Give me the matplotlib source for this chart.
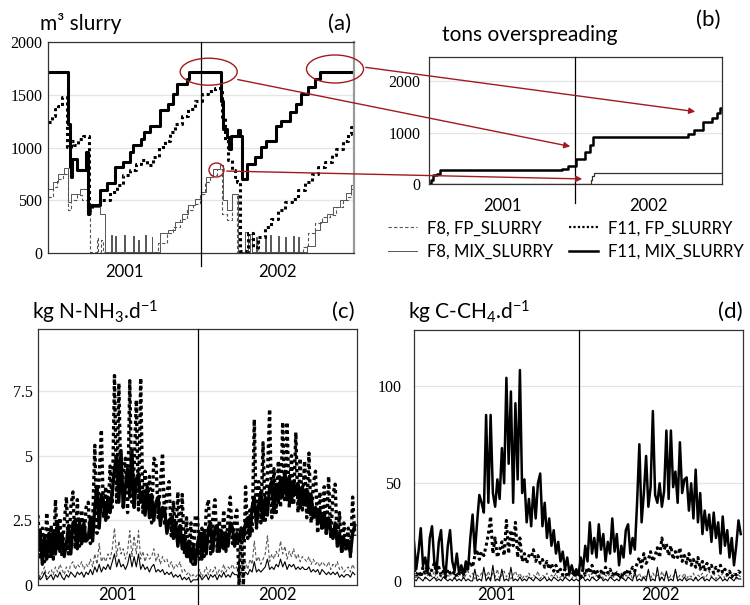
import numpy as np
import matplotlib
matplotlib.use("Agg")
import matplotlib.pyplot as plt
from matplotlib.lines import Line2D
from matplotlib.patches import Ellipse, FancyArrowPatch

plt.rcParams['font.family'] = ['Lato', 'DejaVu Sans']
plt.rcParams['mathtext.fontset'] = 'custom'
plt.rcParams['mathtext.rm'] = 'Lato'
plt.rcParams['mathtext.it'] = 'Lato'

W, H = 750, 605
YEARS = ['2001', '2002']

# ---- (a) m3 slurry in store, step series (day, value) ----
a_f11_mix_days = [0, 48.5, 52.5, 55.6, 58, 70, 90, 94.6, 98.6, 124, 140, 160, 180, 195.6, 202, 223, 229,
                  243, 267, 287, 299, 307, 331, 337, 413.6, 418, 426, 431, 437, 453, 459, 463.6, 475.6,
                  493, 509, 521, 545, 557, 577, 592.5, 604.5, 620, 636, 648, 730]
a_f11_mix_vals = [1711, 1223, 815, 720, 893, 783, 956, 374, 453, 601, 664, 815, 862, 956, 1019, 1082, 1145,
                  1208, 1355, 1412, 1506, 1600, 1648, 1711, 1444, 1176, 1098, 988, 1113, 1167, 1113, 704, 846,
                  909, 1003, 1066, 1208, 1255, 1333, 1412, 1506, 1569, 1648, 1711, 1711]

a_f11_fp_days = [0, 8.7, 16.7, 24.6, 32.6, 46, 54, 62, 72, 82.7, 97, 104, 124, 148, 164, 180, 195.6, 211,
                 223, 235, 251, 265.5, 279, 291, 303, 319, 335, 350.6, 366.5, 382, 398, 414, 422, 430, 438,
                 446, 452, 458, 478, 490, 502, 517.5, 533, 549, 565, 581, 597, 613, 629, 645, 660.6, 676.5,
                 688, 704, 716, 724, 730]
a_f11_fp_vals = [1239, 1302, 1365, 1396, 1475, 1003, 1066, 1019, 1082, 1113, 406, 453, 500, 579, 642, 736, 783,
                 846, 877, 830, 909, 1003, 1066, 1145, 1223, 1302, 1365, 1444, 1506, 1538, 1563, 1286, 1066,
                 877, 783, 720, 673, 20, 186, 60, 150, 248, 327, 406, 484, 516, 594, 673, 752, 815, 862, 925,
                 988, 1066, 1129, 1192, 1192]

a_f8_mix_days = [0, 13, 25, 37, 48.5, 54, 76, 96, 102, 124, 137, 150, 152, 161, 163, 181, 183, 203, 205, 215,
                 217, 231, 233, 247, 249, 267, 287, 303, 319, 335, 351, 366, 378, 394, 410, 418, 426, 438, 454,
                 470, 476, 482, 486, 497, 499, 517, 519, 529, 531, 549, 551, 565, 567, 585, 587, 597, 599,
                 617, 637, 649, 665, 680, 696, 712, 724, 730]
a_f8_mix_vals = [604, 673, 752, 805, 484, 563, 610, 374, 437, 374, 10, 170, 10, 160, 10, 170, 10, 160, 10, 120,
                 10, 170, 10, 150, 10, 186, 217, 296, 374, 453, 516, 579, 720, 799, 830, 500, 406, 563, 10,
                 200, 10, 180, 10, 150, 10, 160, 10, 170, 10, 160, 10, 150, 10, 160, 10, 150, 10,
                 66, 217, 296, 374, 437, 500, 569, 642, 642]

a_f8_fp_days = [0, 11, 22, 35, 48.5, 56, 70, 80, 94, 100, 116, 120, 126, 132, 263, 283, 299, 315, 331, 347,
                362.5, 374, 386, 402, 414, 426, 438, 452, 480, 486, 500, 504, 609, 621, 637, 653, 672.6, 688,
                704, 716, 724, 730]
a_f8_fp_vals = [531, 626, 704, 752, 406, 500, 547, 500, 374, 10, 138, 10, 120, 10, 91, 186, 248, 327, 406, 469,
                563, 673, 736, 799, 374, 311, 563, 10, 130, 10, 120, 10, 60, 186, 280, 343, 359, 437,
                500, 531, 610, 610]

# ---- (b) tons overspreading ----
b_f11_days = [0, 5, 10.8, 19, 27.4, 330.5, 345.5, 366, 388.6, 401, 409.4, 646, 661, 683, 704, 716.6, 725, 730]
b_f11_vals = [0, 70, 168, 200, 265, 298, 350, 493, 622, 752, 914, 967, 1045, 1206, 1284, 1389, 1479, 1479]
b_f8_days = [0, 403.6, 406, 410, 730]
b_f8_vals = [0, 70, 150, 220, 220]

# ---- (c) kg N-NH3/d, 5-day readings 2001 + 2002 ----
c_f11_fp = [2.7, 1.0, 2.2, 0.9, 2.8, 1.1, 2.3, 1.0, 3.3, 1.3,
            2.6, 1.1, 2.4, 3.4, 1.2, 3.0, 3.6, 1.4, 3.3, 1.5,
            2.9, 1.6, 3.0, 3.2, 1.6, 2.4, 5.4, 2.0, 4.2, 6.0,
            2.6, 3.8, 2.6, 4.6, 3.0, 8.1, 3.2, 7.8, 3.5, 4.3,
            4.9, 2.8, 7.9, 3.2, 4.6, 7.15, 2.9, 8.0, 2.8, 4.4,
            3.0, 4.2, 2.4, 4.9, 4.75, 2.6, 3.9, 5.1, 2.3, 3.6,
            4.0, 1.9, 3.2, 1.8, 3.6, 1.6, 3.5, 1.2, 2.6, 1.0,
            2.4, 0.8, 2.7,
            2.6, 1.0, 2.2, 1.1, 2.9, 3.3, 1.2, 2.6, 3.3, 1.3,
            2.5, 1.4, 2.9, 1.3, 2.6, 3.4, 1.6, 2.5, 2.9, 0.0,
            2.2, 0.0, 3.8, 1.8, 2.9, 2.0, 6.4, 2.2, 4.0, 2.4,
            5.5, 2.5, 4.2, 6.8, 2.6, 4.5, 2.8, 4.8, 3.0, 6.3,
            3.2, 6.3, 3.0, 5.0, 3.1, 5.9, 2.8, 4.9, 2.9, 4.8,
            2.6, 5.1, 2.4, 3.9, 4.4, 2.0, 3.6, 2.1, 3.8, 1.9,
            4.2, 1.8, 3.5, 3.9, 1.5, 2.8, 1.2, 2.4, 1.3, 2.2,
            1.1, 3.4, 1.9]
c_f11_mix = [1.5, 2.1, 0.8, 1.9, 1.0, 2.0, 1.1, 2.1, 1.2, 2.4,
             1.3, 2.0, 1.1, 1.6, 2.3, 1.2, 2.4, 2.5, 1.4, 2.5,
             1.6, 2.4, 1.7, 1.8, 2.6, 1.7, 3.0, 3.8, 2.2, 3.5,
             3.2, 2.5, 3.4, 2.8, 3.6, 4.5, 5.0, 3.2, 5.2, 3.0,
             3.8, 4.5, 3.4, 5.2, 3.0, 4.1, 4.3, 3.2, 3.6, 2.7,
             3.8, 2.6, 3.5, 2.5, 3.2, 3.4, 2.3, 3.0, 2.9, 2.0,
             2.5, 2.6, 1.8, 2.4, 1.5, 2.3, 1.4, 1.9, 1.1, 1.7,
             0.9, 1.5, 0.8,
             1.6, 2.0, 1.0, 2.1, 1.2, 2.2, 2.4, 1.3, 2.2, 2.3,
             1.3, 2.1, 1.4, 2.0, 1.5, 2.4, 2.2, 1.5, 2.0, 1.7,
             2.2, 1.8, 2.4, 2.6, 1.9, 3.0, 3.4, 2.3, 3.1, 3.6,
             2.5, 3.4, 2.7, 3.8, 4.0, 2.8, 3.9, 3.2, 4.1, 3.4,
             4.4, 3.3, 4.2, 3.2, 4.0, 3.5, 3.9, 3.0, 3.8, 3.1,
             3.7, 2.8, 3.5, 2.6, 3.0, 2.4, 2.9, 2.2, 2.8, 2.0,
             2.6, 2.1, 1.8, 2.4, 1.6, 2.0, 1.3, 1.8, 1.5, 1.7,
             1.2, 2.0, 2.3]
c_f8_fp = [0.6, 0.3, 0.5, 0.7, 0.3, 0.5, 0.6, 0.4, 0.7, 0.5,
           0.8, 0.6, 0.4, 0.7, 0.5, 0.8, 0.9, 0.6, 0.8, 0.7,
           0.9, 0.6, 0.8, 0.7, 1.0, 0.7, 1.2, 0.8, 1.6, 0.9,
           1.1, 0.9, 1.2, 1.0, 1.4, 2.2, 1.1, 1.7, 1.2, 1.4,
           1.0, 1.3, 2.1, 1.1, 1.9, 1.2, 2.1, 1.0, 1.3, 0.9,
           1.2, 1.0, 1.1, 1.4, 0.9, 1.2, 0.8, 1.1, 0.9, 1.0,
           0.7, 0.9, 0.6, 0.8, 0.7, 0.9, 0.5, 0.6, 0.4, 0.5,
           0.3, 0.4, 0.3,
           0.4, 0.6, 0.3, 0.5, 0.7, 0.4, 0.6, 0.5, 0.7, 0.4,
           0.6, 0.5, 0.8, 0.5, 0.7, 0.6, 0.8, 0.6, 0.7, 0.5,
           0.8, 0.7, 0.9, 0.6, 1.0, 0.8, 1.7, 0.9, 1.1, 0.8,
           1.0, 1.2, 1.9, 0.9, 1.2, 1.0, 1.3, 1.1, 1.7, 1.2,
           1.5, 1.0, 1.3, 1.1, 1.4, 1.0, 1.2, 0.9, 1.1, 1.0,
           0.9, 1.1, 0.8, 1.0, 0.8, 0.9, 0.7, 0.9, 0.8, 0.7,
           0.9, 0.6, 0.8, 0.7, 0.9, 0.6, 0.7, 0.5, 0.6, 0.7,
           0.5, 0.8, 0.6]
c_f8_mix = [0.4, 0.2, 0.3, 0.5, 0.2, 0.3, 0.4, 0.2, 0.4, 0.3,
            0.5, 0.3, 0.2, 0.4, 0.3, 0.5, 0.4, 0.3, 0.5, 0.4,
            0.5, 0.3, 0.5, 0.4, 0.6, 0.4, 0.7, 0.5, 0.8, 0.5,
            0.7, 0.6, 0.8, 0.6, 0.9, 1.2, 0.7, 1.0, 0.7, 0.8,
            0.6, 0.8, 1.2, 0.7, 1.1, 0.7, 1.2, 0.6, 0.8, 0.6,
            0.7, 0.5, 0.7, 0.8, 0.5, 0.6, 0.5, 0.6, 0.4, 0.5,
            0.4, 0.5, 0.3, 0.4, 0.3, 0.4, 0.2, 0.3, 0.2, 0.3,
            0.1, 0.2, 0.2,
            0.2, 0.4, 0.2, 0.3, 0.4, 0.2, 0.4, 0.3, 0.4, 0.2,
            0.4, 0.3, 0.5, 0.3, 0.4, 0.3, 0.5, 0.4, 0.4, 0.3,
            0.5, 0.4, 0.5, 0.4, 0.6, 0.5, 0.9, 0.5, 0.6, 0.5,
            0.6, 0.7, 1.0, 0.6, 0.7, 0.6, 0.8, 0.7, 1.0, 0.7,
            0.9, 0.6, 0.8, 0.7, 0.8, 0.6, 0.7, 0.6, 0.7, 0.6,
            0.6, 0.7, 0.5, 0.6, 0.5, 0.6, 0.4, 0.6, 0.5, 0.4,
            0.5, 0.4, 0.5, 0.4, 0.5, 0.3, 0.4, 0.3, 0.4, 0.4,
            0.3, 0.5, 0.4]

# ---- (d) kg C-CH4/d, 5-day readings 2001 + 2002 ----
d_f11_mix = [20, 6, 15, 27, 8, 12, 4, 22, 28, 10,
             5, 20, 26, 8, 3, 18, 26, 10, 5, 14,
             4, 8, 3, 10, 6, 22, 34, 14, 30, 44,
             40, 35, 85, 40, 85, 45, 38, 52, 42, 68,
             50, 104, 60, 97, 40, 91, 52, 108, 45, 52,
             30, 42, 28, 48, 32, 50, 55, 28, 40, 22,
             32, 18, 26, 14, 20, 10, 15, 6, 12, 4,
             8, 3, 6,
             3, 12, 6, 18, 10, 30, 14, 22, 12, 29,
             16, 24, 10, 20, 14, 32, 15, 24, 8, 18,
             12, 26, 29, 14, 22, 16, 40, 70, 30, 45,
             64, 38, 48, 87, 44, 40, 50, 38, 46, 77,
             42, 77, 48, 56, 40, 71, 45, 52, 53, 36,
             50, 32, 57, 30, 45, 24, 36, 26, 34, 20,
             35, 22, 30, 14, 33, 18, 26, 12, 22, 8,
             18, 31, 24]
d_f11_fp = [6, 3, 5, 2, 7, 4, 8, 3, 6, 9,
            4, 7, 3, 5, 2, 6, 4, 3, 5, 2,
            4, 3, 6, 4, 8, 10, 7, 13, 16, 11,
            15, 13, 18, 24, 33, 14, 22, 12, 16, 20,
            13, 31, 14, 26, 18, 30, 12, 22, 10, 14,
            9, 13, 12, 16, 10, 13, 9, 11, 7, 10,
            6, 9, 5, 8, 4, 6, 3, 6, 2, 4,
            3, 5, 2,
            4, 2, 6, 3, 7, 4, 8, 3, 6, 2,
            5, 3, 7, 4, 6, 3, 5, 2, 4, 1,
            5, 3, 6, 4, 7, 5, 9, 12, 7, 14,
            9, 11, 15, 10, 13, 17, 12, 22, 16, 19,
            13, 18, 11, 15, 12, 17, 10, 13, 9, 14,
            8, 11, 7, 12, 6, 10, 5, 9, 6, 8,
            4, 7, 5, 8, 4, 6, 3, 5, 2, 4,
            3, 5, 4]
d_f8_fp = [3, 1, 4, 2, 5, 1, 3, 4, 2, 5,
           1, 3, 2, 4, 1, 3, 2, 5, 1, 3,
           2, 4, 1, 3, 5, 2, 4, 1, 3, 2,
           4, 6, 2, 5, 1, 4, 2, 6, 1, 3,
           5, 2, 4, 1, 3, 5, 2, 4, 1, 3,
           2, 4, 1, 3, 2, 5, 1, 3, 2, 4,
           1, 3, 2, 4, 1, 2, 3, 1, 4, 2,
           1, 3, 2,
           2, 4, 1, 3, 5, 2, 4, 1, 3, 2,
           5, 1, 3, 2, 4, 1, 3, 5, 2, 4,
           1, 3, 2, 4, 1, 3, 2, 4, 1, 3,
           2, 5, 1, 4, 2, 3, 1, 5, 2, 4,
           1, 3, 2, 5, 1, 3, 2, 4, 1, 3,
           2, 4, 1, 3, 2, 4, 1, 3, 5, 2,
           4, 1, 3, 2, 4, 1, 3, 5, 2, 4,
           1, 3, 2]
d_f8_mix = [1, 0, 2, 1, 0, 2, 1, 0, 1, 2,
            0, 1, 0, 2, 1, 0, 1, 0, 2, 0,
            1, 0, 2, 0, 1, 0, 0, 6, 0, 1,
            0, 7, 0, 2, 0, 8, 0, 1, 0, 6,
            0, 1, 0, 7, 0, 1, 0, 2, 0, 1,
            0, 2, 1, 0, 2, 1, 0, 1, 2, 0,
            1, 0, 2, 1, 0, 1, 0, 2, 1, 0,
            1, 0, 1,
            0, 1, 2, 0, 1, 0, 2, 1, 0, 1,
            2, 0, 1, 0, 2, 1, 0, 1, 0, 2,
            1, 0, 2, 1, 0, 5, 0, 1, 0, 2,
            0, 6, 0, 1, 0, 7, 0, 2, 0, 5,
            0, 1, 0, 6, 0, 1, 0, 2, 0, 1,
            1, 0, 2, 0, 1, 2, 0, 1, 0, 2,
            1, 0, 1, 2, 0, 1, 0, 2, 1, 0,
            2, 1, 1]

STY = {
    'f8_fp': dict(color='#555555', lw=0.8, ls=(0, (3, 2))),
    'f8_mix': dict(color='#555555', lw=0.7, ls='-'),
    'f11_fp': dict(color='black', lw=2.2, ls=(0, (1, 1))),
    'f11_mix': dict(color='black', lw=2.2, ls='-'),
}
RED = '#A31A1E'


def fx(x, y):
    return (x / W, 1 - y / H)


def add_ax(fig, left, top, right, bottom):
    return fig.add_axes([left / W, 1 - bottom / H, (right - left) / W, (bottom - top) / H])


def frame(ax, ylim, yticks, ylabels, pad, line_drop, year_off):
    ax.set_xlim(0, 730)
    ax.set_ylim(*ylim)
    ax.set_xticks([])
    ax.set_yticks(yticks)
    ax.set_yticklabels(ylabels, family='Liberation Serif', fontsize=11.5)
    ax.tick_params(axis='y', length=0, pad=pad)
    for v in yticks[1:]:
        ax.axhline(v, color='#e4e4e4', lw=0.9, zorder=0)
    for s in ax.spines.values():
        s.set_color('#333333')
        s.set_linewidth(0.9)
    ax.axvline(365, ymin=-line_drop, ymax=1, color='black', lw=0.9, clip_on=False, zorder=5)
    for xf, yr in zip([0.25, 0.75], YEARS):
        ax.text(xf, -year_off, yr, transform=ax.transAxes, ha='center', va='center', fontsize=12)


def title(x, y, s):
    fig.text(*fx(x, y), s, fontsize=15, va='center')


def tag(x, y, s):
    fig.text(*fx(x, y), s, fontsize=16, va='center', ha='center')


fig = plt.figure(figsize=(W / 100, H / 100), dpi=100)

# (a)
ax = add_ax(fig, 48, 42, 354, 253)
ax.step(a_f8_fp_days, a_f8_fp_vals, where='post', **STY['f8_fp'])
ax.step(a_f8_mix_days, a_f8_mix_vals, where='post', **STY['f8_mix'])
ax.step(a_f11_fp_days, a_f11_fp_vals, where='post', **STY['f11_fp'])
ax.step(a_f11_mix_days, a_f11_mix_vals, where='post', **STY['f11_mix'])
frame(ax, (0, 2000), [0, 500, 1000, 1500, 2000], ['0', '500', '1000', '1500', '2000'], 4, 0.062, 0.09)
ax.spines['right'].set_color('#999999')
ax.spines['right'].set_linewidth(1.6)
title(40, 24, 'm³ slurry')
tag(340, 24, '(a)')

# (b)
ax = add_ax(fig, 429, 57, 722, 184)
ax.step(b_f8_days, b_f8_vals, where='post', color='#333333', lw=0.9)
ax.step(b_f11_days, b_f11_vals, where='post', color='black', lw=1.8)
frame(ax, (0, 2470), [0, 1000, 2000], ['0', '1000', '2000'], 6, 0.15, 0.173)
title(442, 35, 'tons overspreading')
tag(708, 20, '(b)')

handles = [Line2D([], [], **STY['f8_fp']), Line2D([], [], **STY['f8_mix']),
           Line2D([], [], color='black', lw=1.6, ls=(0, (1, 1))), Line2D([], [], color='black', lw=1.8)]
labels = ['F8, FP_SLURRY', 'F8, MIX_SLURRY', 'F11, FP_SLURRY', 'F11, MIX_SLURRY']
fig.legend(handles, labels, ncol=2, frameon=False, fontsize=12, loc='center',
           bbox_to_anchor=fx(566, 240), handlelength=1.75, columnspacing=0.95,
           handletextpad=0.6, labelspacing=0.45, borderpad=0.2, borderaxespad=0)

# (c)
days = 5 * np.arange(len(c_f11_fp))
ax = add_ax(fig, 38, 329, 357, 585)
ax.plot(days, c_f8_fp, **STY['f8_fp'])
ax.plot(days, c_f8_mix, color='black', lw=0.8)
ax.plot(days, c_f11_mix, color='black', lw=2.4)
ax.plot(days, c_f11_fp, color='black', lw=2.4, ls=(0, (1, 1)))
frame(ax, (0, 9.9), [0, 2.5, 5, 7.5], ['0', '2.5', '5', '7.5'], 4, 0.078, 0.04)
title(32, 312, r'kg N-NH$_3$.d$^{\mathregular{-1}}$')
tag(343, 312, '(c)')

# (d)
ax = add_ax(fig, 414, 330, 743, 586)
ax.plot(days, d_f8_fp, **STY['f8_fp'])
ax.plot(days, d_f8_mix, color='black', lw=0.8)
ax.plot(days, d_f11_fp, color='black', lw=2.2, ls=(0, (1, 1)))
ax.plot(days, d_f11_mix, color='black', lw=1.8)
frame(ax, (-2.6, 128.5), [0, 50, 100], ['0', '50', '100'], 9, 0.078, 0.035)
title(408, 312, r'kg C-CH$_4$.d$^{\mathregular{-1}}$')
tag(730, 312, '(d)')

# red callouts linking (a) to (b)
for cx, cy, w, h in [(208.7, 71.7, 57, 27), (335, 69, 57, 28), (216.5, 170, 15, 14)]:
    fig.add_artist(Ellipse(fx(cx, cy), w / W, h / H, transform=fig.transFigure,
                           fill=False, edgecolor=RED, lw=1.0))
for (x0, y0), (x1, y1) in [((363, 67), (698, 112)), ((235, 79), (573, 147)), ((224, 171), (585, 179))]:
    fig.add_artist(FancyArrowPatch(fx(x0, y0), fx(x1, y1), transform=fig.transFigure,
                                   arrowstyle='-|>', mutation_scale=9, color=RED, lw=1.0))

fig.savefig('out.png', dpi=100)
